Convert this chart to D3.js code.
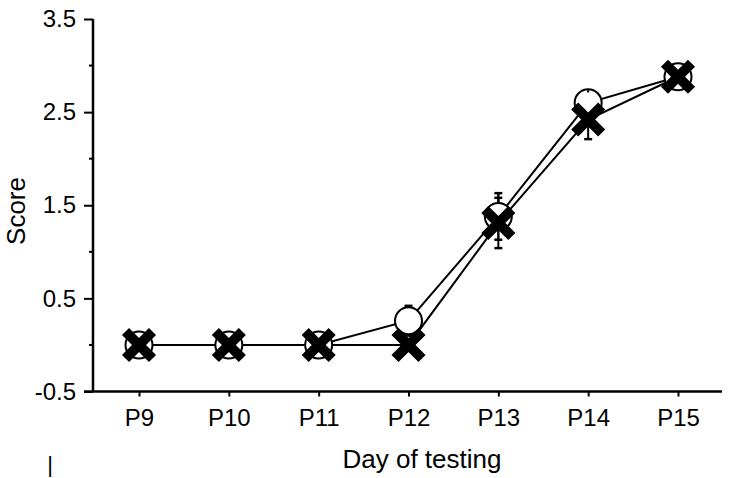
<!DOCTYPE html>
<html><head><meta charset="utf-8">
<script src="https://cdn.jsdelivr.net/npm/d3@7"></script>
<style>body{margin:0;background:#fff}svg{display:block}text{font-family:"Liberation Sans",Arial,sans-serif;fill:#000}</style>
</head><body><svg id="c" width="729" height="478"></svg>
<script>
const categories = ["P9","P10","P11","P12","P13","P14","P15"];
const circleValues = [0, 0, 0, 0.26, 1.38, 2.6, 2.88];
const circleErr =    [0, 0, 0, 0.16, 0.25, 0.11, 0.03];
const crossValues =  [0, 0, 0, 0, 1.31, 2.42, 2.88];
const crossErr =     [0, 0, 0, 0, 0.27, 0.21, 0.03];
const yMajorTicks = [-0.5, 0.5, 1.5, 2.5, 3.5];
const yMinorTicks = [0, 1, 2, 3];

const svg = d3.select("#c");
const x = d3.scalePoint().domain(categories).range([139, 678]);
const y = d3.scaleLinear().domain([-0.5, 3.5]).range([391.5, 19]);

const yAxis = d3.axisLeft(y).tickValues(yMajorTicks).tickFormat(d => d.toFixed(1)).tickSize(9).tickPadding(8);
const gy = svg.append("g").attr("transform","translate(93,0)").call(yAxis)
  .attr("font-size",24).attr("font-family",null);
gy.select(".domain").attr("stroke-width",2.5).attr("d", `M0,${y(3.5)}V${y(-0.5)}`);
gy.selectAll(".tick line").attr("stroke-width",2);
const gyMinor = svg.append("g").attr("transform","translate(93,0)");
gyMinor.selectAll("line").data(yMinorTicks).join("line")
  .attr("x1",-4).attr("x2",0).attr("y1",d=>y(d)).attr("y2",d=>y(d)).attr("stroke","#000").attr("stroke-width",2);

const xAxis = d3.axisBottom(x).tickSize(5).tickPadding(12);
const gx = svg.append("g").attr("transform",`translate(0,${y(-0.5)})`).call(xAxis)
  .attr("font-size",24).attr("font-family",null);
gx.select(".domain").attr("stroke-width",2.5).attr("d","M84,0H722");
gx.selectAll(".tick line").attr("stroke-width",2);

svg.append("text").attr("transform","translate(25,211) rotate(-90)").attr("text-anchor","middle").style("font-size","26px").text("Score");
svg.append("text").attr("x",422).attr("y",468).attr("text-anchor","middle").style("font-size","26px").text("Day of testing");
svg.append("text").attr("x",50).attr("y",472).attr("text-anchor","middle").style("font-size","22px").text("|");

const plot = svg.append("g");
const line = d3.line().x((d,i)=>x(categories[i])).y(d=>y(d));
plot.append("path").datum(circleValues).attr("d",line).attr("fill","none").attr("stroke","#000").attr("stroke-width",2);
plot.append("path").datum(crossValues).attr("d",line).attr("fill","none").attr("stroke","#000").attr("stroke-width",2);

function errBars(vals, errs){
  const g = plot.append("g");
  categories.forEach((c,i)=>{
    if(errs[i] <= 0.05) return;
    const cx = x(c), t = y(vals[i]+errs[i]), b = y(vals[i]-errs[i]);
    g.append("line").attr("x1",cx).attr("x2",cx).attr("y1",t).attr("y2",b).attr("stroke","#000").attr("stroke-width",2);
    g.append("line").attr("x1",cx-4).attr("x2",cx+4).attr("y1",t).attr("y2",t).attr("stroke","#000").attr("stroke-width",2.5);
    g.append("line").attr("x1",cx-4).attr("x2",cx+4).attr("y1",b).attr("y2",b).attr("stroke","#000").attr("stroke-width",2.5);
  });
}
errBars(circleValues, circleErr);
errBars(crossValues, crossErr);

plot.selectAll("circle.m").data(circleValues).join("circle").attr("class","m")
  .attr("cx",(d,i)=>x(categories[i])).attr("cy",d=>y(d)).attr("r",13.5)
  .attr("fill","#fff").attr("stroke","#000").attr("stroke-width",2);
categories.forEach((c,i)=>{
  if(circleErr[i] <= 0.05) return;
  const cx = x(c);
  plot.append("line").attr("x1",cx).attr("x2",cx).attr("y1",y(circleValues[i]+circleErr[i])).attr("y2",y(circleValues[i])-13.5).attr("stroke","#000").attr("stroke-width",2);
});

const a = 13.5;
plot.selectAll("path.x").data(crossValues).join("path").attr("class","x")
  .attr("transform",(d,i)=>`translate(${x(categories[i])},${y(d)})`)
  .attr("d",`M${-a},${-a}L${a},${a}M${-a},${a}L${a},${-a}`)
  .attr("stroke","#000").attr("stroke-width",10).attr("fill","none");
</script></body></html>
